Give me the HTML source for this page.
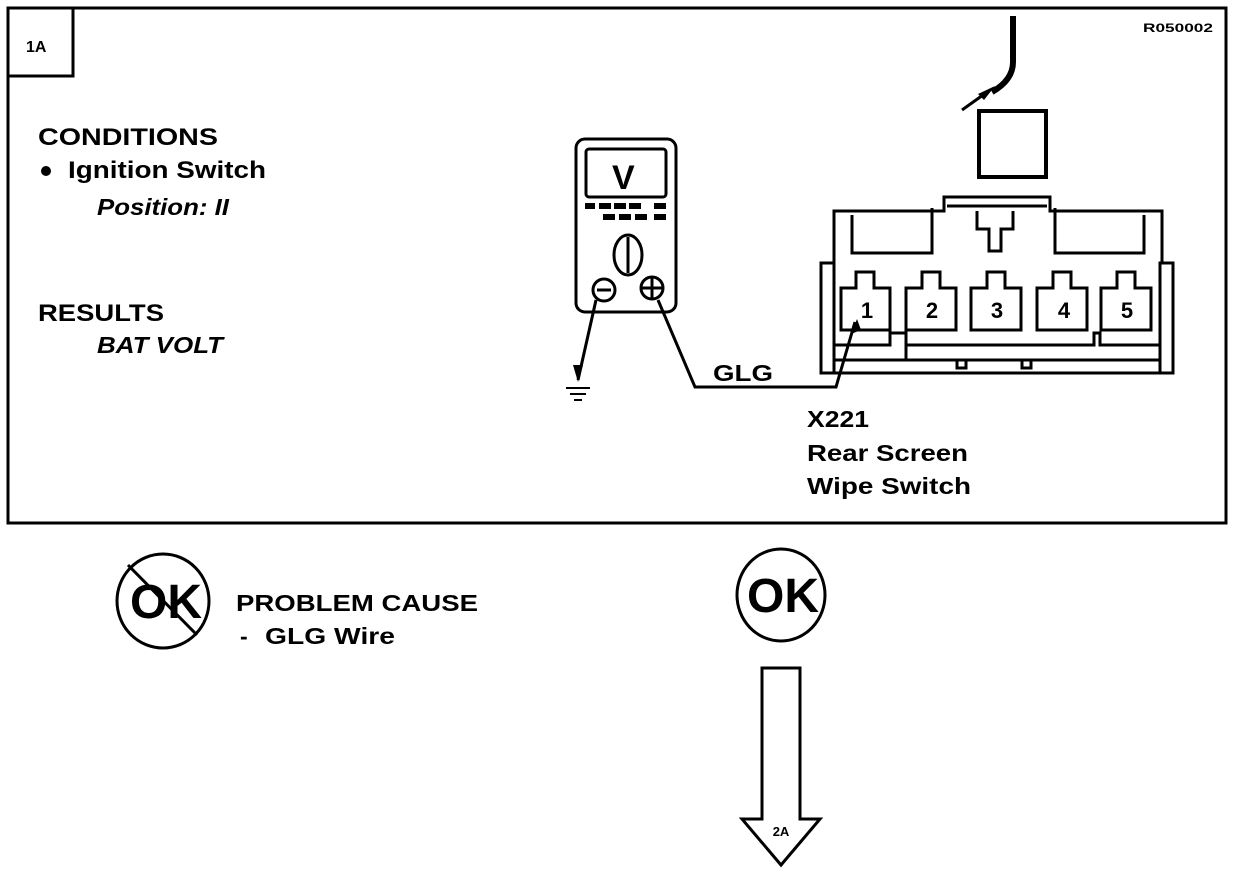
<!DOCTYPE html>
<html><head><style>
html,body{margin:0;padding:0;background:#fff;}
svg{display:block;}
text{font-family:"Liberation Sans",sans-serif;font-weight:bold;fill:#000;}
</style></head><body>
<svg width="1248" height="874" viewBox="0 0 1248 874" xmlns="http://www.w3.org/2000/svg">
<g fill="none" stroke="#000" stroke-width="3">
<rect x="8" y="8" width="1218" height="515"/>
<path d="M8 76 H73 V8"/>
</g>
<text x="26" y="52" font-size="16">1A</text>
<text x="1143" y="32" font-size="12" font-weight="normal" textLength="70" lengthAdjust="spacingAndGlyphs">R050002</text>
<text x="38" y="145" font-size="24" textLength="180" lengthAdjust="spacingAndGlyphs">CONDITIONS</text>
<circle cx="46" cy="171" r="5" fill="#000"/>
<text x="68" y="178" font-size="24" textLength="198" lengthAdjust="spacingAndGlyphs">Ignition Switch</text>
<text x="97" y="215" font-size="23" font-style="italic" font-weight="normal" textLength="132" lengthAdjust="spacingAndGlyphs">Position: II</text>
<text x="38" y="321" font-size="24" textLength="126" lengthAdjust="spacingAndGlyphs">RESULTS</text>
<text x="97" y="353" font-size="23" font-style="italic" font-weight="normal" textLength="126" lengthAdjust="spacingAndGlyphs">BAT VOLT</text>

<!-- meter -->
<g fill="none" stroke="#000" stroke-width="3">
<rect x="576" y="139" width="100" height="173" rx="9"/>
<rect x="586" y="149" width="80" height="48" rx="3"/>
<ellipse cx="628" cy="255" rx="14" ry="20"/>
<line x1="628" y1="237" x2="628" y2="273"/>
<circle cx="604" cy="290" r="11"/>
<line x1="597" y1="290" x2="611" y2="290"/>
<circle cx="652" cy="288" r="11"/>
<line x1="641" y1="288" x2="663" y2="288"/><line x1="652" y1="277" x2="652" y2="299"/>
<path d="M658 300 L695 387 L836 387 L855 322"/>
<path d="M596 300 L578 380"/>
</g>
<g fill="#000">
<rect x="585" y="203" width="10" height="6"/><rect x="599" y="203" width="12" height="6"/><rect x="614" y="203" width="12" height="6"/><rect x="629" y="203" width="12" height="6"/><rect x="654" y="203" width="12" height="6"/>
<rect x="603" y="214" width="12" height="6"/><rect x="619" y="214" width="12" height="6"/><rect x="635" y="214" width="12" height="6"/><rect x="654" y="214" width="12" height="6"/>
<polygon points="573,365 583,365 578,382"/>
<polygon points="851,334 861,330 857,319"/>
</g>
<text x="612" y="189" font-size="34">V</text>
<g stroke="#000" stroke-width="2"><line x1="566" y1="388" x2="590" y2="388"/><line x1="570" y1="394" x2="586" y2="394"/><line x1="574" y1="400" x2="582" y2="400"/></g>
<text x="713" y="381" font-size="23" textLength="60" lengthAdjust="spacingAndGlyphs">GLG</text>

<!-- wire top -->
<path d="M1013 16 V62 Q1013 80 992 92" fill="none" stroke="#000" stroke-width="6"/>
<line x1="962" y1="110" x2="990" y2="90" stroke="#000" stroke-width="3"/>
<polygon points="995,86 978,94 984,100" fill="#000"/>
<rect x="979" y="111" width="67" height="66" fill="none" stroke="#000" stroke-width="4"/>

<!-- connector -->
<g fill="none" stroke="#000" stroke-width="3">
<path d="M834 263 V211 H944 V197 H1050 V211 H1162 V263"/>
<path d="M852 215 V253 H932 V208"/>
<path d="M1055 208 V253 H1144 V215"/>
<path d="M947 206 H1047"/>
<path d="M977 211 V229 H989 V251 H1001 V229 H1013 V211"/>
<path d="M821 263 H834 V373 H821 Z"/>
<path d="M1160 263 H1173 V373 H1160 Z"/>
<path d="M834 373 H1160"/>
<path d="M834 360 H1160"/>
<path d="M834 345 H890 V333 H906 V360"/>
<path d="M906 345 H1094 V333 H1100 V345 H1160"/>
<rect x="957" y="360" width="9" height="8"/><rect x="1022" y="360" width="9" height="8"/>
</g>
<g fill="none" stroke="#000" stroke-width="3">
<path d="M841 330 V288 H856 V272 H874 V288 H890 V330 Z"/>
<path d="M906 330 V288 H922 V272 H940 V288 H956 V330 Z"/>
<path d="M971 330 V288 H987 V272 H1005 V288 H1021 V330 Z"/>
<path d="M1037 330 V288 H1053 V272 H1071 V288 H1087 V330 Z"/>
<path d="M1101 330 V288 H1117 V272 H1135 V288 H1151 V330 Z"/>
</g>
<g font-size="22" text-anchor="middle">
<text x="867" y="318">1</text><text x="932" y="318">2</text><text x="997" y="318">3</text><text x="1064" y="318">4</text><text x="1127" y="318">5</text>
</g>
<text x="807" y="427" font-size="23" textLength="62" lengthAdjust="spacingAndGlyphs">X221</text>
<text x="807" y="461" font-size="23" textLength="161" lengthAdjust="spacingAndGlyphs">Rear Screen</text>
<text x="807" y="494" font-size="23" textLength="164" lengthAdjust="spacingAndGlyphs">Wipe Switch</text>

<!-- bottom -->
<g fill="none" stroke="#000" stroke-width="3">
<ellipse cx="163" cy="601" rx="46" ry="47"/>
<line x1="128" y1="565" x2="197" y2="635"/>
<ellipse cx="781" cy="595" rx="44" ry="46"/>
<path d="M762 668 H800 V819 H820 L781 865 L742 819 H762 Z"/>
</g>
<text x="130" y="618" font-size="48" textLength="72" lengthAdjust="spacingAndGlyphs">OK</text>
<text x="747" y="612" font-size="48" textLength="72" lengthAdjust="spacingAndGlyphs">OK</text>
<text x="236" y="611" font-size="23" textLength="242" lengthAdjust="spacingAndGlyphs">PROBLEM CAUSE</text>
<text x="240" y="644" font-size="23">-</text>
<text x="265" y="644" font-size="23" textLength="130" lengthAdjust="spacingAndGlyphs">GLG Wire</text>
<text x="781" y="836" font-size="13" text-anchor="middle">2A</text>
</svg>
</body></html>
